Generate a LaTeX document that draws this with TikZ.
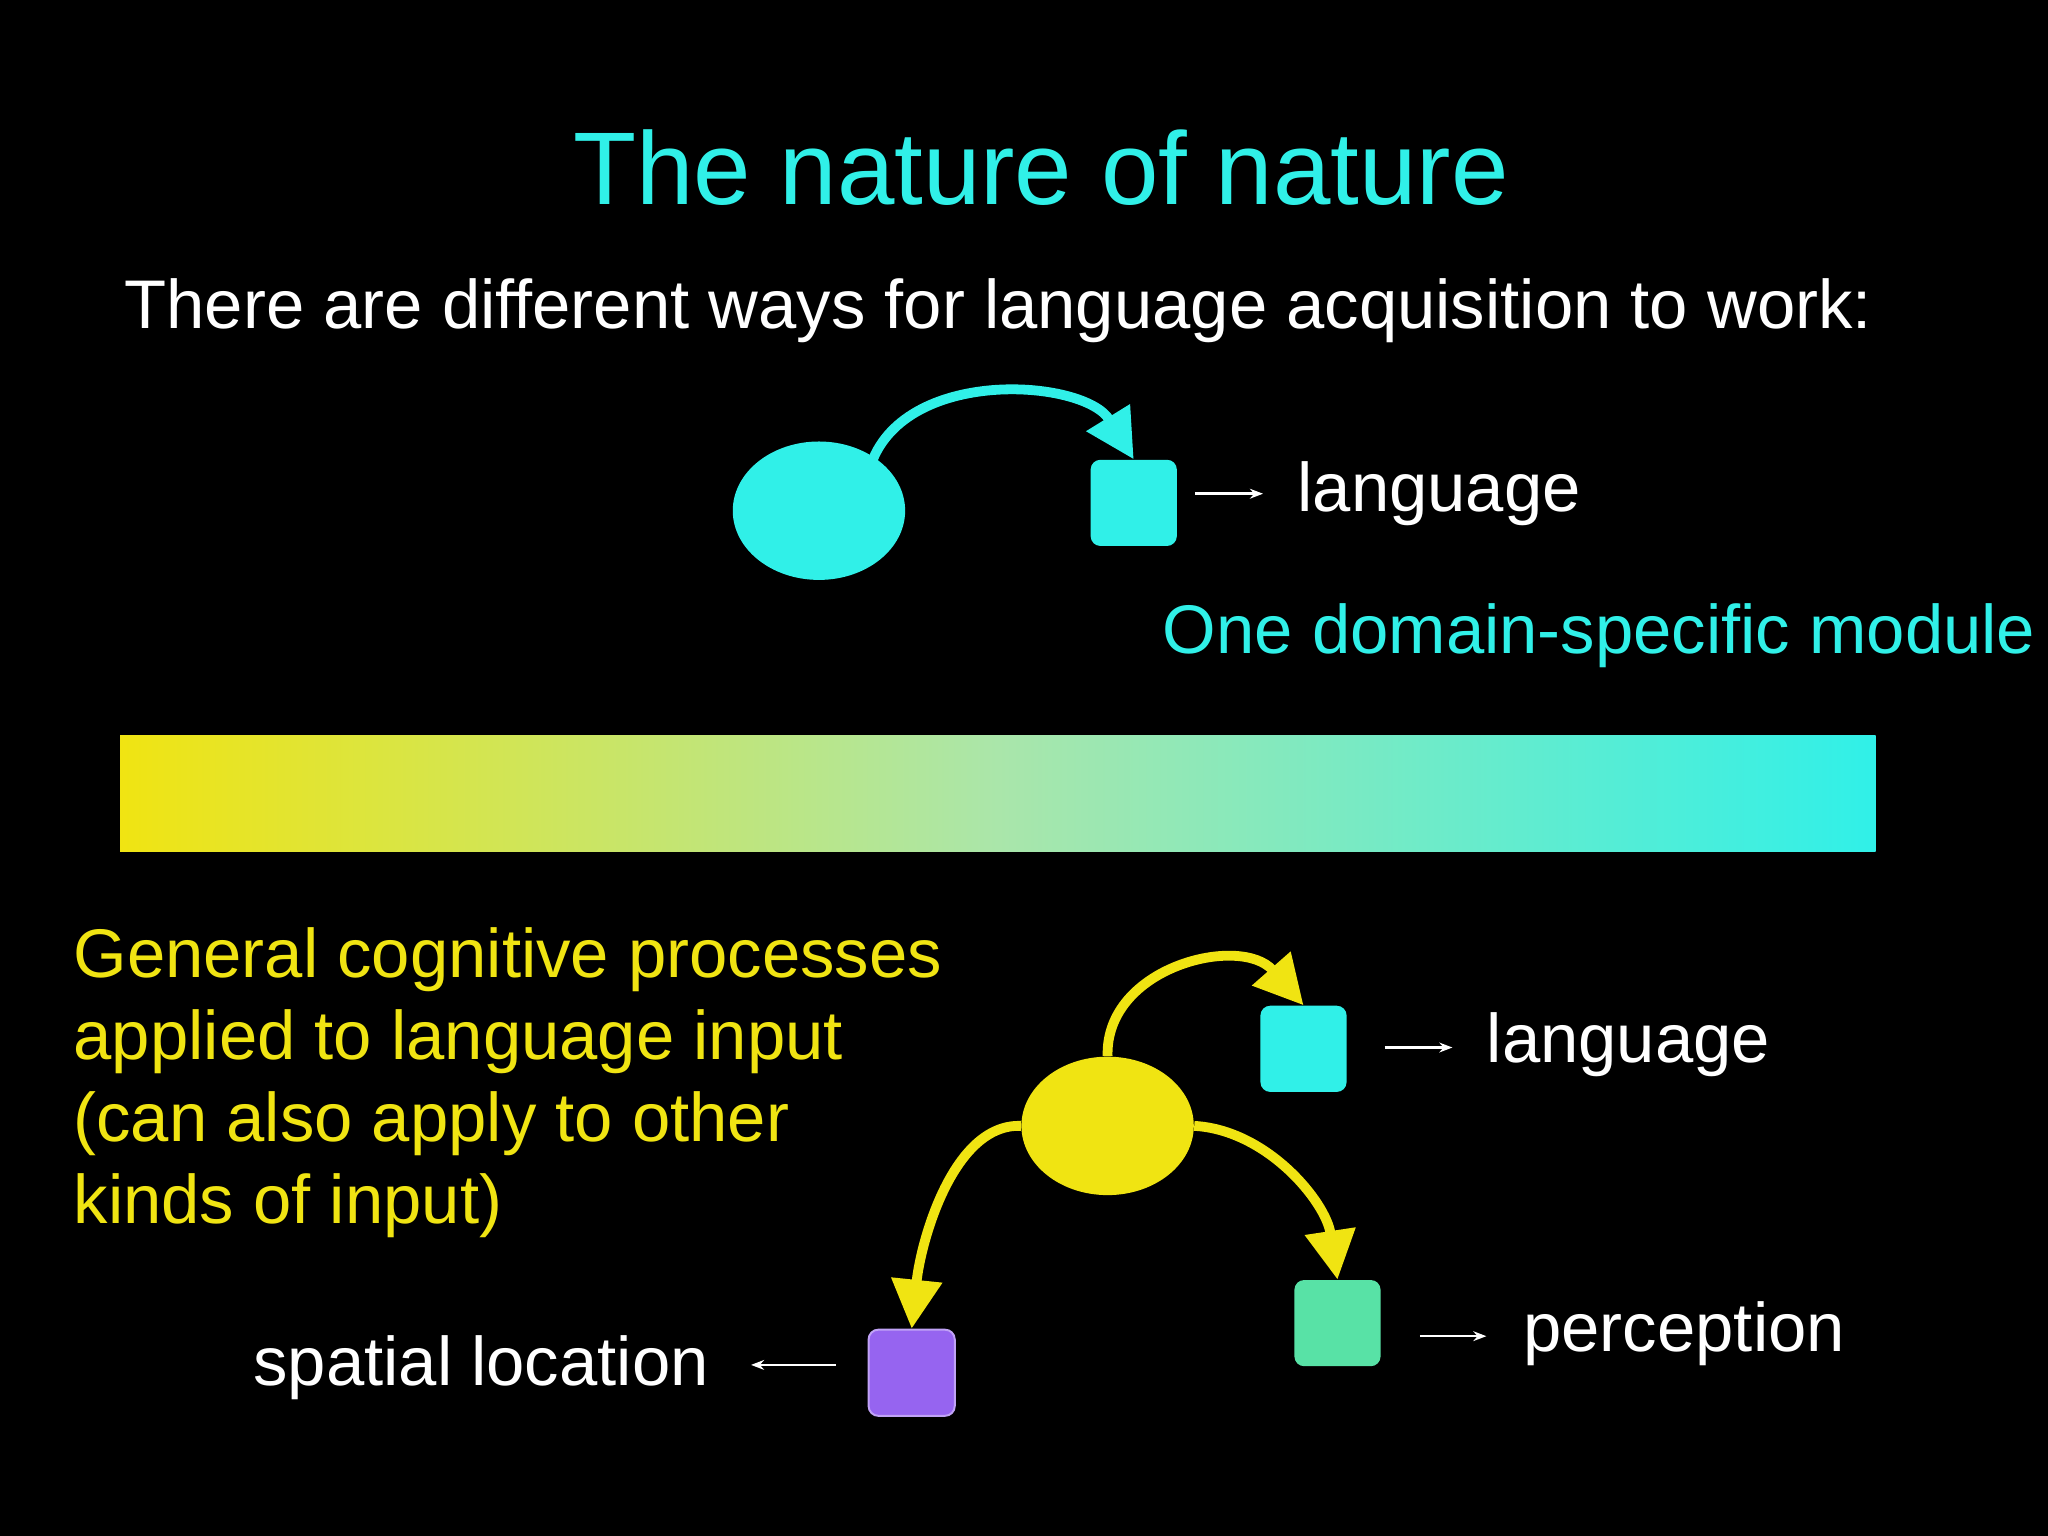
\documentclass[tikz,border=0pt]{standalone}
\usepackage{fontspec}
\setmainfont{Liberation Sans}
\usetikzlibrary{arrows.meta,shapes.geometric}
\definecolor{cy}{RGB}{48,240,232}
\definecolor{ye}{RGB}{240,228,18}
\definecolor{gr}{RGB}{88,226,166}
\definecolor{pu}{RGB}{150,100,240}
\begin{document}
\begin{tikzpicture}[x=0.02cm,y=-0.02cm,
  sq/.style={rounded corners=0.15cm,minimum size=1.32cm,inner sep=0},
  blob/.style={ellipse,minimum width=2.64cm,minimum height=2.12cm,inner sep=0},
  big/.style={-{Triangle[length=0.75cm,width=0.75cm]},line width=0.15cm},
  sm/.style={-{Stealth[length=0.2cm]},white,line width=0.04cm},
  lab/.style={font=\fontsize{30}{36}\selectfont,inner sep=0}]
\useasboundingbox (0,0) rectangle (1568,1176);
\fill[black] (0,0) rectangle (1568,1176);
\node[text=cy,font=\fontsize{45}{54}\selectfont] (t) at (797,128) {The nature of nature};
\node[lab,text=white,anchor=west] (s) at (95,238) {There are different ways for language acquisition to work:};
% top
\node[blob,fill=cy] (e1) at (627,391) {};
\node[sq,fill=cy] (q1) at (868,385) {};
\draw[big,cy] (e1.north east) ++(-8,5) coordinate (a1) .. controls (690,280) and (830,290) .. (q1.north);
\coordinate (l1a) at (915,378); \coordinate (l1b) at (967,378);
\draw[sm] (l1a) -- (l1b);
\node[lab,text=white,anchor=west] (ll1) at (993,378) {language};
\node[lab,text=cy,anchor=west] (one) at (890,487) {One domain-specific module};
% bar
\shade[left color=ye,right color=cy,middle color={rgb,255:red,170;green,230;blue,170}] (92,563) rectangle (1436,652);
% bottom
\node[lab,text=ye,anchor=north west,align=left,font=\fontsize{30}{35.7}\selectfont] (g) at (56,710) {General cognitive processes\\applied to language input\\(can also apply to other\\kinds of input)};
\node[blob,fill=ye] (e2) at (848,862) {};
\node[sq,fill=cy] (q2) at (998,803) {};
\node[sq,fill=gr] (q3) at (1024,1013) {};
\node[sq,fill=pu,draw=pu!60!white,line width=0.03cm] (q4) at (698,1051) {};
\draw[big,ye] (e2.north) .. controls (846,740) and (950,715) .. (q2.north);
\draw[big,ye] (e2.west) .. controls (730,860) and (705,950) .. (q4.north);
\draw[big,ye] (e2.east) .. controls (970,865) and (1015,920) .. (q3.north);
\coordinate (l2a) at (1060,802); \coordinate (l2b) at (1112,802);
\draw[sm] (l2a) -- (l2b);
\node[lab,text=white,anchor=west] (ll2) at (1138,800) {language};
\coordinate (l3a) at (1087,1023); \coordinate (l3b) at (1138,1023);
\draw[sm] (l3a) -- (l3b);
\node[lab,text=white,anchor=west] (ll3) at (1166,1021) {perception};
\coordinate (l4a) at (640,1045); \coordinate (l4b) at (575,1045);
\draw[sm] (l4a) -- (l4b);
\node[lab,text=white,anchor=east] (ll4) at (543,1047) {spatial location};
\end{tikzpicture}
\end{document}
